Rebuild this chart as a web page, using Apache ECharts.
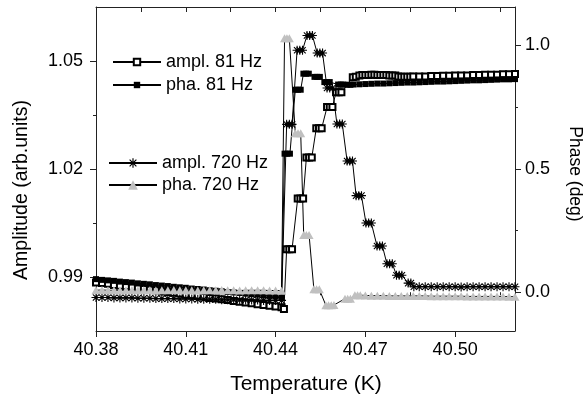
<!DOCTYPE html>
<html><head><meta charset="utf-8">
<script src="https://cdn.jsdelivr.net/npm/echarts@6/dist/echarts.min.js"></script>
<style>html,body{margin:0;padding:0;background:#fff}#c{width:584px;height:401px}</style>
</head><body><div id="c"></div>
<script>
// ---- tick values ----
const xMajorTicks = [40.38, 40.41, 40.44, 40.47, 40.50];
const xMinorTicks = [40.395, 40.425, 40.455, 40.485, 40.515];
const ampMajorTicks = [0.99, 1.02, 1.05];
const ampMinorTicks = [1.005, 1.035];
const phaseMajorTicks = [0.0, 0.5, 1.0];
const phaseMinorTicks = [0.25, 0.75];

const seriesNames = ['ampl. 81 Hz', 'pha. 81 Hz', 'ampl. 720 Hz', 'pha. 720 Hz'];

// ---- temperatures (K) of the flat low / high parts ----
const tLow = [40.380,40.382,40.384,40.386,40.388,40.390,40.392,40.394,40.396,40.398,40.400,40.402,40.404,40.406,40.408,40.410,40.412,40.414,40.416,40.418,40.420,40.422,40.424,40.426,40.428,40.430,40.432,40.434,40.436,40.438,40.440,40.442];
const tHigh = [40.488,40.490,40.492,40.494,40.496,40.498,40.500,40.502,40.504,40.506,40.508,40.510,40.512,40.514,40.516,40.518,40.520];

// ---- ampl. 81 Hz (left axis) ----
const ampl81Low = [0.9885,0.9883,0.9881,0.9878,0.9876,0.9874,0.9872,0.9869,0.9867,0.9865,0.9863,0.9860,0.9858,0.9856,0.9854,0.9851,0.9849,0.9847,0.9845,0.9842,0.9840,0.9838,0.9836,0.9833,0.9831,0.9829,0.9827,0.9824,0.9822,0.9820,0.9818,0.9816];
const ampl81Mid = [[40.4428,0.9811],
 [40.4437,0.9977],[40.4446,0.9977],[40.4455,0.9977],
 [40.4474,1.0118],[40.4483,1.0118],[40.4492,1.0118],
 [40.4503,1.0232],[40.4512,1.0232],[40.4521,1.0232],
 [40.4536,1.0313],[40.4545,1.0313],[40.4554,1.0313],
 [40.4572,1.0372],[40.4581,1.0372],[40.4590,1.0372],
 [40.4602,1.0413],[40.4611,1.0413],[40.4620,1.0413],
 [40.4658,1.0455],[40.4668,1.0456],[40.4680,1.0460],[40.4690,1.0461],[40.4700,1.0461],[40.4710,1.0461],[40.4720,1.0462],[40.4730,1.0462],[40.4740,1.0461],[40.4750,1.0461],[40.4760,1.0461],[40.4770,1.0461],[40.4780,1.0460],[40.4790,1.0460],[40.4800,1.0460],[40.4810,1.0457],[40.4820,1.0456],[40.4830,1.0456],[40.4840,1.0456],[40.4850,1.0456],[40.4860,1.0457]];
const ampl81High = [1.0457,1.0457,1.0458,1.0458,1.0459,1.0459,1.0460,1.0460,1.0460,1.0461,1.0461,1.0462,1.0462,1.0462,1.0463,1.0463,1.0464];

// ---- pha. 81 Hz (right axis) ----
const pha81Low = [0.053,0.050,0.048,0.046,0.043,0.041,0.039,0.036,0.034,0.032,0.029,0.027,0.025,0.022,0.020,0.018,0.015,0.013,0.011,0.008,0.006,0.004,0.001,-0.001,-0.003,-0.006,-0.008,-0.010,-0.013,-0.015,-0.017,-0.020];
const pha81Mid = [
 [40.4430,0.561],[40.4439,0.561],[40.4448,0.561],
 [40.4466,0.820],[40.4475,0.820],[40.4484,0.820],
 [40.4493,0.885],[40.4502,0.885],[40.4511,0.885],
 [40.4530,0.872],[40.4539,0.872],[40.4548,0.872],
 [40.4563,0.851],[40.4572,0.851],[40.4581,0.851],
 [40.4609,0.841],[40.4618,0.841],[40.4627,0.841],
 [40.4640,0.840],[40.4650,0.840],[40.4660,0.841],[40.4680,0.842],[40.4700,0.843],[40.4720,0.844],[40.4740,0.845],[40.4760,0.845],[40.4780,0.846],[40.4800,0.847],[40.4820,0.848],[40.4840,0.849],[40.4860,0.849]];
const pha81High = [0.850,0.851,0.852,0.853,0.853,0.854,0.855,0.856,0.857,0.858,0.858,0.859,0.860,0.861,0.862,0.862,0.863];

// ---- ampl. 720 Hz (left axis) ----
const ampl720Low = [0.9843,0.9843,0.9843,0.9842,0.9842,0.9842,0.9842,0.9841,0.9841,0.9841,0.9840,0.9840,0.9840,0.9840,0.9839,0.9839,0.9839,0.9838,0.9838,0.9838,0.9838,0.9837,0.9837,0.9837,0.9836,0.9836,0.9836,0.9836,0.9835,0.9835,0.9835,0.9835];
const ampl720Mid = [
 [40.4437,1.0324],[40.4446,1.0324],[40.4455,1.0324],
 [40.4472,1.0530],[40.4481,1.0530],[40.4490,1.0530],
 [40.4505,1.0571],[40.4514,1.0571],[40.4523,1.0571],
 [40.4539,1.0522],[40.4548,1.0522],[40.4557,1.0522],
 [40.4572,1.0425],[40.4581,1.0425],[40.4590,1.0425],
 [40.4605,1.0325],[40.4614,1.0325],[40.4623,1.0325],
 [40.4639,1.0222],[40.4648,1.0222],[40.4657,1.0222],
 [40.4669,1.0126],[40.4678,1.0126],[40.4687,1.0126],
 [40.4702,1.0050],[40.4711,1.0050],[40.4720,1.0050],
 [40.4739,0.9986],[40.4748,0.9986],[40.4757,0.9986],
 [40.4772,0.9937],[40.4781,0.9937],[40.4790,0.9937],
 [40.4804,0.9905],[40.4813,0.9905],[40.4822,0.9905],
 [40.4843,0.9883],[40.4852,0.9883],
 [40.4862,0.9873]];
const ampl720High = [0.9873,0.9873,0.9873,0.9873,0.9873,0.9873,0.9873,0.9872,0.9873,0.9873,0.9873,0.9873,0.9873,0.9873,0.9873,0.9873,0.9873];

// ---- pha. 720 Hz (right axis) ----
const pha720Low = [0.008,0.009,0.008,0.008,0.007,0.008,0.009,0.008,0.008,0.008,0.007,0.008,0.008,0.009,0.008,0.008,0.008,0.007,0.008,0.008,0.008,0.009,0.008,0.008,0.007,0.008,0.008,0.008,0.008,0.007,0.007,0.006];
const pha720Mid = [
 [40.4430,1.028],[40.4438,1.028],[40.4446,1.028],
 [40.4466,0.644],[40.4475,0.644],[40.4484,0.644],
 [40.4494,0.232],[40.4503,0.232],[40.4512,0.232],
 [40.4528,0.012],[40.4537,0.012],[40.4546,0.012],
 [40.4568,-0.053],[40.4577,-0.053],[40.4586,-0.053],[40.4595,-0.052],
 [40.4632,-0.026],[40.4641,-0.026],[40.4650,-0.026],
 [40.4665,-0.012],[40.4674,-0.012],[40.4683,-0.012],
 [40.4700,-0.013],[40.4720,-0.014],[40.4740,-0.014],[40.4760,-0.014],[40.4780,-0.015],[40.4800,-0.015],[40.4820,-0.015],[40.4840,-0.015],[40.4860,-0.015]];
const pha720High = [-0.015,-0.015,-0.016,-0.016,-0.016,-0.016,-0.016,-0.016,-0.017,-0.017,-0.017,-0.017,-0.017,-0.017,-0.017,-0.018,-0.018];

function build(low, mid, high) {
  return tLow.map((t, i) => [t, low[i]]).concat(mid, tHigh.map((t, i) => [t, high[i]]));
}

const FONT = "'Liberation Sans', Arial, Helvetica, sans-serif";
const AXC = '#222';
const STAR = 'path://M0,4.4L10,4.4L10,5.6L0,5.6Z M4.4,0L5.6,0L5.6,10L4.4,10Z M1.05,1.9L1.9,1.05L8.95,8.1L8.1,8.95Z M8.1,1.05L8.95,1.9L1.9,8.95L1.05,8.1Z';

const chart = echarts.init(document.getElementById('c'), null, {renderer: 'canvas'});

const xRange = {min: 40.38, max: 40.52};
const ampRange = {min: 0.975, max: 1.065};
const phRange = {min: -0.157, max: 1.155};

chart.setOption({
  animation: false,
  backgroundColor: '#fff',
  grid: {left: 96, right: 69, top: 7, bottom: 70, containLabel: false},
  xAxis: [
    {type: 'value', position: 'bottom', ...xRange,
     axisLine: {show: true, onZero: false, lineStyle: {color: AXC, width: 1}},
     axisTick: {show: true, inside: false, length: 6, customValues: xMajorTicks, lineStyle: {color: AXC}},
     axisLabel: {show: true, customValues: xMajorTicks, margin: 10, fontSize: 18, fontFamily: FONT, color: '#000',
                 formatter: v => v.toFixed(2)},
     splitLine: {show: false}},
    {type: 'value', position: 'bottom', ...xRange,
     axisLine: {show: false},
     axisTick: {show: true, inside: false, length: 3, customValues: xMinorTicks, lineStyle: {color: AXC}},
     axisLabel: {show: false}, splitLine: {show: false}},
    {type: 'value', position: 'top', ...xRange,
     axisLine: {show: true, onZero: false, lineStyle: {color: AXC, width: 1}},
     axisTick: {show: true, inside: true, length: 5, customValues: xMajorTicks.concat(xMinorTicks), lineStyle: {color: AXC}},
     axisLabel: {show: false}, splitLine: {show: false}}
  ],
  yAxis: [
    {type: 'value', position: 'left', ...ampRange,
     axisLine: {show: true, onZero: false, lineStyle: {color: AXC, width: 1}},
     axisTick: {show: true, inside: false, length: 6, customValues: ampMajorTicks, lineStyle: {color: AXC}},
     axisLabel: {show: true, customValues: ampMajorTicks, margin: 13, fontSize: 18, fontFamily: FONT, color: '#000',
                 formatter: v => v.toFixed(2)},
     splitLine: {show: false}},
    {type: 'value', position: 'left', ...ampRange,
     axisLine: {show: false},
     axisTick: {show: true, inside: false, length: 3, customValues: ampMinorTicks, lineStyle: {color: AXC}},
     axisLabel: {show: false}, splitLine: {show: false}},
    {type: 'value', position: 'right', ...phRange,
     axisLine: {show: true, onZero: false, lineStyle: {color: AXC, width: 1}},
     axisTick: {show: true, inside: false, length: 6, customValues: phaseMajorTicks, lineStyle: {color: AXC}},
     axisLabel: {show: true, customValues: phaseMajorTicks, margin: 10, fontSize: 18, fontFamily: FONT, color: '#000',
                 formatter: v => v.toFixed(1)},
     splitLine: {show: false}},
    {type: 'value', position: 'right', ...phRange,
     axisLine: {show: false},
     axisTick: {show: true, inside: false, length: 3, customValues: phaseMinorTicks, lineStyle: {color: AXC}},
     axisLabel: {show: false}, splitLine: {show: false}}
  ],
  legend: [
    {data: [seriesNames[0], seriesNames[1]], orient: 'vertical', left: 112, top: 53, padding: 0,
     itemWidth: 48, itemHeight: 8, itemGap: 5, selectedMode: false,
     textStyle: {fontSize: 18, fontFamily: FONT, color: '#000', lineHeight: 18}},
    {data: [seriesNames[2], seriesNames[3]], orient: 'vertical', left: 108, top: 154, padding: 0,
     itemWidth: 48, itemHeight: 12, itemGap: 4, selectedMode: false,
     textStyle: {fontSize: 18, fontFamily: FONT, color: '#000', lineHeight: 18}}
  ],
  graphic: [
    {type: 'text', x: 306, y: 384, style: {text: 'Temperature (K)', font: "21px " + FONT, fill: '#000', align: 'center', verticalAlign: 'middle'}},
    {type: 'text', x: 22, y: 190, rotation: Math.PI / 2, style: {text: 'Amplitude (arb.units)', font: "19.5px " + FONT, fill: '#000', align: 'center', verticalAlign: 'middle'}},
    {type: 'text', x: 575, y: 174, rotation: -Math.PI / 2, style: {text: 'Phase (deg)', font: "17.5px " + FONT, fill: '#000', align: 'center', verticalAlign: 'middle'}}
  ],
  series: [
    {name: seriesNames[0], type: 'line', xAxisIndex: 0, yAxisIndex: 0, data: build(ampl81Low, ampl81Mid, ampl81High),
     symbol: 'emptyRect', symbolSize: 6, showSymbol: true,
     lineStyle: {color: '#000', width: 1}, itemStyle: {color: '#000', borderWidth: 1}, emphasis: {disabled: true}, silent: true},
    {name: seriesNames[1], type: 'line', xAxisIndex: 0, yAxisIndex: 2, data: build(pha81Low, pha81Mid, pha81High),
     symbol: 'rect', symbolSize: 6, showSymbol: true,
     lineStyle: {color: '#000', width: 1}, itemStyle: {color: '#000'}, emphasis: {disabled: true}, silent: true},
    {name: seriesNames[2], type: 'line', xAxisIndex: 0, yAxisIndex: 0, data: build(ampl720Low, ampl720Mid, ampl720High),
     symbol: STAR, symbolSize: 9, showSymbol: true,
     lineStyle: {color: '#000', width: 1}, itemStyle: {color: '#000'}, emphasis: {disabled: true}, silent: true},
    {name: seriesNames[3], type: 'line', xAxisIndex: 0, yAxisIndex: 2, data: build(pha720Low, pha720Mid, pha720High),
     symbol: 'triangle', symbolSize: [9, 8], showSymbol: true,
     lineStyle: {color: '#000', width: 1}, itemStyle: {color: '#c0c0c0'}, emphasis: {disabled: true}, silent: true}
  ]
});
</script></body></html>
